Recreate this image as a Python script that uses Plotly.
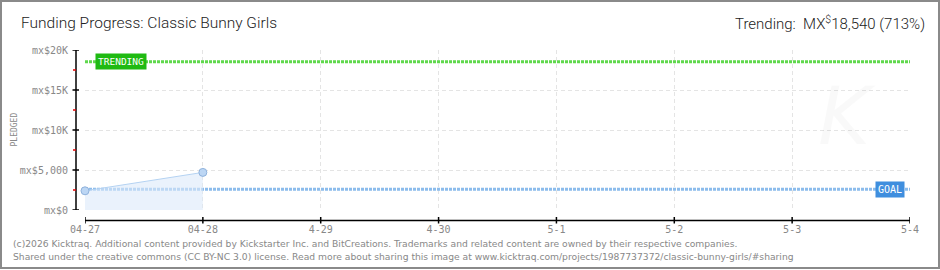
import plotly.graph_objects as go

# ---- data ----
dates = ["2026-04-27", "2026-04-28", "2026-04-29", "2026-04-30",
         "2026-05-01", "2026-05-02", "2026-05-03", "2026-05-04"]
date_labels = ["04-27", "04-28", "4-29", "4-30", "5-1", "5-2", "5-3", "5-4"]
pledged_dates = ["2026-04-27", "2026-04-28"]
pledged = [2400, 4700]
goal = 2600
trending = 18540
y_ticks = [0, 5000, 10000, 15000, 20000]
y_tick_labels = ["mx$0", "mx$5,000", "mx$10K", "mx$15K", "mx$20K"]
y_minor = [2500, 7500, 12500, 17500]
title = "Funding Progress: Classic Bunny Girls"
trend_text = "Trending:  MX<sup>$</sup>18,540 (713%)"
footer1 = "(c)2026 Kicktraq. Additional content provided by Kickstarter Inc. and BitCreations. Trademarks and related content are owned by their respective companies."
footer2 = "Shared under the creative commons (CC BY-NC 3.0) license. Read more about sharing this image at www.kicktraq.com/projects/1987737372/classic-bunny-girls/#sharing"

W, H = 940, 270
L, R, T, B = 85, 30, 50, 60
PW, PH = W - L - R, H - T - B


def px(x):
    return (x - L) / PW


def py(y):
    return (H - B - y) / PH


fig = go.Figure()

# trending line
fig.add_trace(go.Scatter(x=[dates[0], dates[-1]], y=[trending, trending], mode="lines",
                         line=dict(color="#5fd84c", width=3, dash="3px,1px"),
                         hoverinfo="skip", showlegend=False))
# goal line
fig.add_trace(go.Scatter(x=[dates[0], dates[-1]], y=[goal, goal], mode="lines",
                         line=dict(color="#8cbcec", width=3, dash="3px,1px"),
                         hoverinfo="skip", showlegend=False))
# pledged
fig.add_trace(go.Scatter(x=pledged_dates, y=pledged, mode="lines+markers",
                         line=dict(color="#b4d2f2", width=1),
                         fill="tozeroy", fillcolor="rgba(220,234,250,0.6)",
                         marker=dict(size=8, color="#bcd6f4", line=dict(color="#8fb2dc", width=1)),
                         cliponaxis=False, showlegend=False))

shapes = []
# y axis line + ticks (offset left of plot)
shapes.append(dict(type="line", xref="paper", yref="y", x0=px(76), x1=px(76),
                   y0=y_ticks[0], y1=y_ticks[-1], line=dict(color="black", width=1.5)))
for v in y_ticks:
    shapes.append(dict(type="line", xref="paper", yref="y", x0=px(72.5), x1=px(79),
                       y0=v, y1=v, line=dict(color="black", width=1.5)))
for v in y_minor:
    shapes.append(dict(type="line", xref="paper", yref="y", x0=px(73), x1=px(76),
                       y0=v, y1=v, line=dict(color="#e00000", width=1.5)))
# x axis line + ticks (offset below plot)
shapes.append(dict(type="line", xref="x", yref="paper", x0=dates[0], x1=dates[-1],
                   y0=py(220.5), y1=py(220.5), line=dict(color="black", width=1.5)))
for d in dates:
    shapes.append(dict(type="line", xref="x", yref="paper", x0=d, x1=d,
                       y0=py(217), y1=py(223.5), line=dict(color="black", width=1.5)))
# outer border
shapes.append(dict(type="rect", xref="paper", yref="paper", x0=px(1), x1=px(939),
                   y0=py(1), y1=py(268), line=dict(color="#8a8a8a", width=2)))

annotations = [
    dict(text=title, xref="paper", yref="paper", x=px(19), y=py(23), xanchor="left", yanchor="middle",
         showarrow=False, font=dict(family="Roboto", size=15.5, weight=300, color="#222222")),
    dict(text=trend_text, xref="paper", yref="paper", x=px(927), y=py(23), xanchor="right", yanchor="middle",
         showarrow=False, font=dict(family="Roboto", size=15, weight=300, color="#222222")),
    dict(text="PLEDGED", xref="paper", yref="paper", x=px(7), y=py(130), textangle=-90,
         showarrow=False, font=dict(family="DejaVu Sans Mono", size=8, color="#888888")),
    dict(text="TRENDING", xref="paper", yref="y", x=px(95), y=trending, xanchor="left", yanchor="middle",
         showarrow=False, bgcolor="#1fba12", borderpad=2,
         font=dict(family="DejaVu Sans Mono", size=9.5, color="white")),
    dict(text="GOAL", xref="paper", yref="y", x=px(905), y=goal, xanchor="right", yanchor="middle",
         showarrow=False, bgcolor="#3f8ede", borderpad=2,
         font=dict(family="DejaVu Sans Mono", size=10, color="white")),
    dict(text="<i>K</i>", xref="paper", yref="paper", x=px(878), y=py(165), showarrow=False,
         font=dict(family="DejaVu Sans", size=80, color="rgba(0,0,0,0.025)")),
    dict(text=footer1, xref="paper", yref="paper", x=px(11), y=py(243), xanchor="left", yanchor="middle",
         showarrow=False, font=dict(family="DejaVu Sans", size=9.2, color="#888888")),
    dict(text=footer2, xref="paper", yref="paper", x=px(11), y=py(256), xanchor="left", yanchor="middle",
         showarrow=False, font=dict(family="DejaVu Sans", size=9.2, color="#888888")),
]

fig.update_layout(
    width=W, height=H,
    margin=dict(l=L, r=R, t=T, b=B, pad=0),
    paper_bgcolor="white", plot_bgcolor="white",
    shapes=shapes, annotations=annotations,
    xaxis=dict(type="date", range=[dates[0], dates[-1]], tickvals=dates, ticktext=date_labels,
               showgrid=True, gridcolor="#e4e4e4", griddash="4px,3px", gridwidth=1,
               zeroline=False, showline=False, ticks="", ticklabelstandoff=12,
               tickfont=dict(family="DejaVu Sans Mono", size=10, color="#888888"), fixedrange=True),
    yaxis=dict(range=[y_ticks[0], y_ticks[-1]], tickvals=y_ticks, ticktext=y_tick_labels,
               showgrid=True, gridcolor="#e4e4e4", griddash="4px,3px", gridwidth=1,
               zeroline=False, showline=False, ticks="", ticklabelstandoff=16,
               tickfont=dict(family="DejaVu Sans Mono", size=10, color="#888888"), fixedrange=True),
)

fig.write_html("out.html")
